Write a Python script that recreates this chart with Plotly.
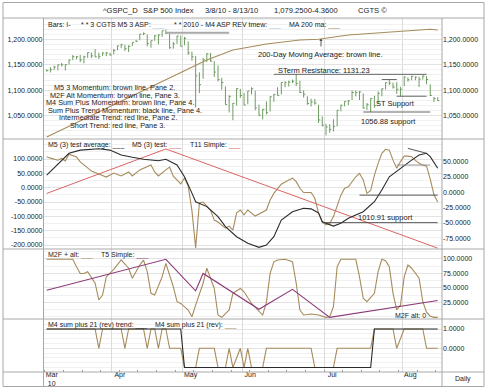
import plotly.graph_objects as go
import pandas as pd

FONT = "Liberation Sans, Arial, sans-serif"
W, H = 490, 390

# ---------------- data ----------------
holidays = ["2010-04-02", "2010-05-31", "2010-07-05"]
all_days = [d for d in pd.bdate_range("2010-03-08", "2010-08-13")
            if d.strftime("%Y-%m-%d") not in holidays]
# sessions that do not appear as bars on the chart
absent_days = ["2010-04-13", "2010-04-21", "2010-05-11", "2010-05-17", "2010-05-24", "2010-05-26"]

high_all = [1141.05, 1145.37, 1148.26, 1150.24, 1153.41, 1151.01, 1160.28, 1169.20, 1167.26, 1169.61, 1167.82, 1174.72, 1174.17, 1180.69, 1173.93, 1174.85, 1175.45, 1173.86,
            1181.43, 1187.73, 1191.80, 1189.60, 1188.55, 1194.66, 1199.20, 1199.98, 1210.65, 1213.92, 1210.17, 1197.87, 1208.50, 1210.99, 1210.27, 1217.28, 1219.80, 1212.05, 1195.05, 1207.33, 1207.99,
            1205.13, 1196.14, 1175.95, 1167.58, 1135.13, 1163.85, 1170.48, 1172.87, 1173.57, 1157.19, 1141.88, 1148.66, 1124.27, 1107.34, 1089.95, 1089.86, 1074.75, 1090.75, 1103.52, 1102.60,
            1094.77, 1098.38, 1105.67, 1098.56, 1071.36, 1063.15, 1077.74, 1087.96, 1092.25, 1105.87, 1115.59, 1117.72, 1118.74, 1121.01, 1131.23, 1118.50, 1099.64, 1088.16, 1083.11, 1082.60, 1071.20, 1048.08,
            1033.58, 1032.95, 1042.50, 1060.89, 1071.25, 1078.16, 1080.78, 1099.08, 1099.46, 1098.42, 1093.74, 1074.70, 1083.94, 1088.96, 1097.50, 1103.11, 1115.01, 1120.95, 1114.66, 1115.90, 1106.44,
            1127.30, 1125.44, 1128.46, 1127.24, 1126.56, 1129.24, 1127.79, 1111.17, 1086.72, 1086.31]
low_all = [1136.77, 1134.90, 1140.09, 1138.99, 1146.97, 1138.82, 1150.35, 1159.31, 1161.16, 1155.33, 1152.88, 1163.83, 1163.38, 1165.09, 1161.48, 1167.67, 1166.98, 1168.12,
           1170.69, 1178.71, 1182.77, 1177.25, 1175.12, 1187.15, 1194.71, 1188.60, 1198.69, 1208.50, 1186.77, 1183.68, 1197.52, 1198.85, 1190.19, 1205.10, 1211.07, 1181.62, 1181.81, 1191.36, 1186.32,
           1188.58, 1169.55, 1158.15, 1065.79, 1094.15, 1122.27, 1147.71, 1155.43, 1156.14, 1126.14, 1114.96, 1117.20, 1100.66, 1071.58, 1055.90, 1072.70, 1040.78, 1065.59, 1069.50, 1084.78,
           1069.89, 1072.03, 1091.81, 1060.50, 1049.86, 1042.17, 1052.25, 1058.02, 1077.12, 1089.30, 1091.66, 1105.87, 1107.13, 1113.93, 1108.24, 1094.18, 1085.31, 1071.00, 1067.89, 1071.45, 1035.18, 1028.33,
           1010.91, 1015.93, 1018.35, 1028.43, 1058.24, 1068.10, 1070.45, 1080.53, 1087.68, 1080.53, 1063.32, 1061.11, 1056.88, 1065.25, 1072.41, 1087.88, 1101.30, 1109.78, 1103.11, 1092.82, 1088.01,
           1107.66, 1116.76, 1119.46, 1119.73, 1105.99, 1120.91, 1111.72, 1088.28, 1076.69, 1079.00]
close_all = [1138.50, 1140.45, 1145.61, 1150.24, 1149.99, 1150.51, 1159.46, 1166.21, 1165.83, 1159.90, 1165.81, 1174.17, 1167.72, 1165.73, 1166.59, 1173.22, 1173.27, 1169.43,
             1178.10, 1187.44, 1189.44, 1182.45, 1186.44, 1194.37, 1196.48, 1197.30, 1210.65, 1211.67, 1192.13, 1197.52, 1207.17, 1205.94, 1208.67, 1217.28, 1212.05, 1183.71, 1191.36, 1206.78, 1186.69,
             1202.26, 1173.60, 1165.87, 1128.15, 1110.88, 1159.73, 1155.79, 1171.67, 1157.44, 1135.68, 1136.94, 1120.80, 1115.05, 1071.59, 1087.69, 1073.65, 1074.03, 1067.95, 1103.06, 1089.41,
             1070.71, 1098.38, 1102.83, 1064.88, 1050.47, 1062.00, 1055.69, 1086.84, 1091.60, 1089.63, 1115.23, 1114.61, 1116.04, 1117.51, 1113.20, 1095.31, 1092.04, 1073.69, 1076.76, 1074.57, 1041.24, 1030.71,
             1027.37, 1022.58, 1028.06, 1060.27, 1070.25, 1077.96, 1078.75, 1095.34, 1095.17, 1096.48, 1064.88, 1071.25, 1083.48, 1069.59, 1093.67, 1102.66, 1115.01, 1113.84, 1106.13, 1101.53, 1101.60,
             1125.86, 1120.46, 1127.24, 1125.81, 1121.64, 1127.79, 1121.06, 1089.47, 1083.61, 1079.25]

keep = [d.strftime("%Y-%m-%d") not in absent_days for d in all_days]
dates = [d for d, k in zip(all_days, keep) if k]
high = [v for v, k in zip(high_all, keep) if k]
low = [v for v, k in zip(low_all, keep) if k]
close = [v for v, k in zip(close_all, keep) if k]
n = len(dates)

# indicator series as (bar number on chart, value)
ma200 = [(0, 1007.6), (43, 1159.5), (50, 1179.3), (59, 1191.1), (68, 1199.0), (73, 1200.4),
         (81, 1208.9), (90, 1213.4), (98, 1218.7), (103, 1220.1), (105, 1218.7)]
# price-pane drawn levels: (value, from bar, to bar)
p1_levels = [(1213.4, 32, 49), (1131.23, 61, 102), (1120.95, 90, 94), (1088.01, 94, 102), (1056.88, 85, 103)]

m5avg = [(0, 44), (6, 120), (9, 131), (12, 135), (14, 136), (17, 131), (20, 114), (23, 106), (26, 99), (30, 94),
         (32, 99), (35, 79), (37, 38), (39, -19), (40, -49), (43, -66), (46, -101), (48, -136), (51, -171), (54, -194),
         (57, -208), (59, -200), (61, -171), (63, -113), (66, -84), (69, -72), (71, -74), (73, -88), (74, -119), (77, -134),
         (79, -124), (81, -107), (85, -84), (88, -49), (90, -8), (92, 38), (95, 68), (98, 96), (100, 114), (102, 120),
         (103, 108), (104, 90), (105, 68)]
m5 = [(0, 108), (1, 103), (3, 96), (4, 102), (5, 93), (6, 117), (8, 107), (9, 90), (11, 69), (12, 58), (14, 48),
      (16, 37), (18, 51), (20, 41), (22, 55), (23, 41), (25, 62), (27, 72), (28, 79), (29, 55), (30, 41), (32, 62),
      (33, 72), (34, 40), (35, 27), (36, 13), (37, 34), (38, 6), (39, -80), (40, -210), (41, -53), (42, -50), (44, -78),
      (45, -113), (46, -120), (48, -141), (49, -134), (50, -148), (51, -88), (52, -78), (53, -95), (54, -78), (56, -99),
      (59, -78), (60, -43), (61, -20), (63, 12), (64, 21), (65, 27), (66, 33), (67, 21), (68, -2), (69, -17), (71, -17),
      (72, -37), (73, -89), (74, -119), (75, -130), (76, -125), (77, -101), (78, -66), (79, -26), (80, -2), (81, 3),
      (83, 38), (84, 50), (85, 27), (86, -20), (87, -10), (88, 44), (89, 85), (90, 120), (91, 134), (92, 131), (93, 96),
      (94, 68), (95, 91), (96, 110), (97, 110), (98, 108), (99, 95), (100, 85), (101, 79), (102, 75), (103, 30),
      (104, -25), (105, -50)]
t11 = [(0, -20), (32, 135), (105, -211)]
p2_levels = [(79, 94, 103), (-26, 84, 105), (-122, 74, 105)]
p2_trend = [(97, 137), (102, 120)]

m2f = [(0, 99.5), (7, 99.5), (8, 86.7), (9, 75), (10, 75), (11, 78), (13, 58), (14, 29), (15, 37.6), (16, 69),
       (18, 82), (20, 98.3), (22, 84), (23, 66.6), (25, 89.6), (26, 98), (27, 78), (28, 40.6), (29, 37.6), (31, 69),
       (32, 92.5), (34, 52), (35, 26), (36, 23), (38, 11.7), (39, 0), (40, 20), (42, 58), (43, 84), (45, 49), (46, 3),
       (47, -1), (49, 11.7), (50, 40.6), (52, 49), (53, 43.3), (55, 23), (57, 8.7), (58, 3), (59, 25), (60, 75),
       (61, 95), (62, 98.3), (64, 99.5), (66, 95.4), (67, 58), (68, 11.7), (69, 3), (71, 4.7), (73, 3), (75, -1),
       (76, 0), (77, 17.4), (78, 86.7), (79, 99.5), (83, 99.5), (84, 69), (85, 32), (86, 26), (88, 40.6), (89, 78),
       (90, 99.5), (91, 97), (92, 86.7), (93, 40.6), (94, 11.7), (95, 20), (96, 69), (97, 89.6), (98, 84), (100, 66.6),
       (101, 26), (102, 8), (103, 1), (104, -1), (105, -1)]
t5 = [(0, 46), (32, 99.5), (40, 45), (42, 75), (57, 13), (66, 47.5), (76, -1), (105, 28)]

m4trend = [(0, 1), (36, 1), (37, -1), (87, -1), (88, 1), (105, 1)]
m4 = [(0, 1), (13, 1), (14, 0), (15, 1), (20, 1), (21, 0), (22, 1), (26, 1), (27, 0), (28, 1), (29, 1), (30, 0),
      (31, 1), (32, 1), (33, 0), (36, 0), (37, -1), (40, -1), (41, 0), (45, 0), (46, -1), (48, -1), (49, 0), (50, -1),
      (52, 0), (53, -1), (54, 0), (55, -1), (58, -1), (59, 0), (71, 0), (72, -1), (77, -1), (78, 0), (87, 0), (88, 1),
      (93, 1), (94, 0), (96, 1), (101, 1), (102, 0), (105, 0)]

p1_ticks = [1050, 1100, 1150, 1200]
p2_left_ticks = [100, 50, 0, -50, -100, -150, -200]
p2_right_ticks = [50, 25, 0, -25, -50, -75]
p3_ticks = [25, 50, 75, 100]
p4_ticks = [0, 1]

# ---------------- styling ----------------
BROWN = "#a68b5b"
BLACK = "#2b2b2b"
RED = "#dc6464"
PURPLE = "#8d3a78"
BAR = "#6f9b62"
GRID = "#e3e3e3"
MINOR = "#f1f1f1"
FRAME = "#a8a8a8"
LBLUE = "#a9cbe0"


def pxx(x):
    return x / W


def pyy(y):
    return 1 - y / H


X0, X1 = 43.5, 442.0
first_px, last_px = 46.7, 437.7
step = (last_px - first_px) / (n - 1)
xr = [-(first_px - X0) / step, (n - 1) + (X1 - last_px) / step]
panes = [(18, 139), (139, 249), (249, 319), (319, 372)]
dom = [[pyy(b), pyy(t)] for t, b in panes]

# month ticks (first bar of each month)
mt_vals, mt_text = [], []
for i, d in enumerate(dates):
    if i == 0 or d.month != dates[i - 1].month:
        mt_vals.append(i - 0.5 if i > 0 else xr[0] + 0.05)
        mt_text.append(d.strftime("%b") + ("<br>10" if i == 0 else ""))

fig = go.Figure()


def line(xs, ys, color, width=1, xa="x", ya="y"):
    fig.add_trace(go.Scatter(x=list(xs), y=list(ys), mode="lines", xaxis=xa, yaxis=ya,
                             line=dict(color=color, width=width),
                             hoverinfo="skip", showlegend=False))


def series(pairs, color, width, xa, ya):
    xs, ys = zip(*pairs)
    line(xs, ys, color, width, xa, ya)


# price bars (high-low with close tick)
bx, by = [], []
for i in range(n):
    bx += [i, i, None, i, i + 0.45, None]
    by += [low[i], high[i], None, close[i], close[i], None]
line(bx, by, BAR, 1)
series(ma200, BROWN, 1.1, "x", "y")
for k, (v, a, b) in enumerate(p1_levels):
    line([a, b], [v, v], "#aaaaaa" if k == 0 else "#555555", 2 if k == 0 else 0.9)
line([None], [None], BAR, 1, "x", "y5")

# pane 2
series(t11, RED, 1, "x2", "y2")
series(m5, BROWN, 1.1, "x2", "y2")
series(m5avg, BLACK, 1.1, "x2", "y2")
for k, (v, a, b) in enumerate(p2_levels):
    line([a, b], [v, v], "#888888" if k == 0 else "#444444", 0.9, "x2", "y2")
series(p2_trend, "#444444", 0.9, "x2", "y2")
line([None], [None], BLACK, 1, "x2", "y6")

# pane 3
series(m2f, BROWN, 1.1, "x3", "y3")
series(t5, PURPLE, 1.1, "x3", "y3")

# pane 4
series(m4, BROWN, 1.1, "x4", "y4")
series(m4trend, BLACK, 1.1, "x4", "y4")

tickfont = dict(family=FONT, size=7, color="#222")
xcommon = dict(range=xr, domain=[pxx(X0), pxx(X1)], tickvals=mt_vals, showgrid=True,
               gridcolor="#dcdcdc", gridwidth=1, zeroline=False, showline=False, ticks="")
layout = dict(
    width=W, height=H, margin=dict(l=0, r=0, t=0, b=0),
    paper_bgcolor="white", plot_bgcolor="white", showlegend=False,
    font=dict(family=FONT, size=7.5, color="#222"),
    xaxis=dict(xcommon, anchor="y", showticklabels=False),
    xaxis2=dict(xcommon, anchor="y2", showticklabels=False, matches="x"),
    xaxis3=dict(xcommon, anchor="y3", showticklabels=False, matches="x"),
    xaxis4=dict(xcommon, anchor="y4", matches="x", showticklabels=True, ticktext=mt_text,
                tickfont=tickfont, ticklabelshift=8, ticklabelstandoff=-3,
                minor=dict(ticks="inside", ticklen=2, tickcolor="#999", dtick=5, tick0=-0.5, showgrid=False)),
    yaxis=dict(domain=dom[0], anchor="x", range=[1003.6, 1242.4], tickvals=p1_ticks,
               ticktext=[f"{v:,.4f}" for v in p1_ticks], tickfont=tickfont, gridcolor=GRID,
               zeroline=False, ticks="", minor=dict(dtick=10, gridcolor=MINOR, showgrid=True)),
    yaxis5=dict(overlaying="y", anchor="x", side="right", range=[1003.6, 1242.4], tickvals=p1_ticks,
                ticktext=[f"{v:,.4f}" for v in p1_ticks], tickfont=tickfont, showgrid=False,
                zeroline=False, ticks=""),
    yaxis2=dict(domain=dom[1], anchor="x2", range=[-213.9, 169.8], tickvals=p2_left_ticks,
                ticktext=[f"{v:.4f}" for v in p2_left_ticks], tickfont=tickfont, gridcolor=GRID,
                zeroline=False, ticks="", minor=dict(dtick=25, gridcolor=MINOR, showgrid=True)),
    yaxis6=dict(overlaying="y2", anchor="x2", side="right", range=[-92.5, 87], tickvals=p2_right_ticks,
                ticktext=[f"{v:.4f}" for v in p2_right_ticks], tickfont=tickfont, showgrid=False,
                zeroline=False, ticks=""),
    yaxis3=dict(domain=dom[2], anchor="x3", side="right", range=[-3.9, 117.3], tickvals=p3_ticks,
                ticktext=[f"{v:.4f}" for v in p3_ticks], tickfont=tickfont, gridcolor=GRID,
                zeroline=False, ticks="", minor=dict(dtick=12.5, gridcolor=MINOR, showgrid=True)),
    yaxis4=dict(domain=dom[3], anchor="x4", side="right", range=[-1.23, 1.52], tickvals=p4_ticks,
                ticktext=[f"{v:.4f}" for v in p4_ticks], tickfont=tickfont, gridcolor=GRID,
                zeroline=False, ticks="", minor=dict(dtick=0.25, gridcolor=MINOR, showgrid=True)),
)
fig.update_layout(**layout)

# frame lines
shapes = []


def hline(y, x0=3, x1=484, color=FRAME):
    shapes.append(dict(type="line", xref="paper", yref="paper", x0=pxx(x0), x1=pxx(x1),
                       y0=pyy(y), y1=pyy(y), line=dict(color=color, width=1)))


def vline(x, y0, y1, color=FRAME):
    shapes.append(dict(type="line", xref="paper", yref="paper", x0=pxx(x), x1=pxx(x),
                       y0=pyy(y0), y1=pyy(y1), line=dict(color=color, width=1)))


hline(2.5); hline(18); hline(139); hline(249); hline(319); hline(372); hline(386.5)
vline(3, 2.5, 386.5); vline(484, 2.5, 386.5)
vline(X0, 18, 386.5); vline(X1, 18, 386.5)
fig.update_layout(shapes=shapes)

ann = []


def text(s, x, y, anchor="left", size=7.5):
    ann.append(dict(text=s, x=pxx(x), y=pyy(y), xref="paper", yref="paper", showarrow=False,
                    xanchor=anchor, yanchor="middle", font=dict(family=FONT, size=size, color="#222")))


def u(c):
    return f"<span style='color:{c}'>___</span>"


for s, cx in [("^GSPC_D", 120), ("S&P 500 Index", 168), ("3/8/10 - 8/13/10", 231.7),
              ("1,079.2500", 293.3), ("-4.3600", 325.3), ("CGTS ©", 372.5)]:
    text(s, cx, 10.5, "center", 7.6)

text("Bars: I-", 46, 24.5, size=7)
text("* * 3 CGTS M5 3 ASP: " + u(LBLUE), 79, 24.5, size=7)
text("* * 2010 - M4 ASP REV tmew: " + u(LBLUE), 172.3, 24.5, size=7)
text("MA 200 ma: " + u(BROWN), 287.3, 24.5, size=7)

for s, cx, y in [("M5 3 Momentum: brown line, Pane 2.", 114, 87.7),
                 ("M2F Alt Momentum: brown line, Pane 3.", 114.5, 95.2),
                 ("M4 Sum Plus Momentum: brown line, Pane 4.", 119.7, 102.7),
                 ("Sum Plus Trend Momentum: black line, Pane 4.", 124.5, 110.3),
                 ("Intermediate Trend: red line, Pane 2.", 118, 117.9),
                 ("Short Trend: red line, Pane 3.", 117.5, 125.4)]:
    text(s, cx, y, "center", 7.3)

text("200-Day Moving Average: brown line.", 320.7, 54.5, "center")
text("STerm Resistance: 1131.23", 324, 70, "center")
text("ST Support", 395, 103.3, "center")
text("1056.88 support", 388, 121.7, "center")
text("1010.91 support", 385, 217.3, "center")

text("M5 (3) test average: " + u(BLACK), 46, 145, size=7)
text("M5 (3) test: " + u(RED), 130, 145, size=7)
text("T11 Simple: " + u(RED), 188.3, 145, size=7)
text("M2F + alt: " + u(BROWN), 46, 255, size=7)
text("T5 Simple: " + u(PURPLE), 99.3, 255, size=7)
text("M2F alt: 0", 428, 315.5, "right", 7)
text("M4 sum plus 21 (rev) trend: " + u(BLACK), 46, 325, size=7)
text("M4 sum plus 21 (rev): " + u(BROWN), 152.7, 325, size=7)
text("Daily", 463, 379, "center", 7)

ann.append(dict(x=pxx(321), y=pyy(39), xref="paper", yref="paper", ax=0, ay=9, text="",
                showarrow=True, arrowhead=1, arrowsize=0.7, arrowwidth=0.8, arrowcolor="#333"))
fig.update_layout(annotations=ann)

fig.write_html("out.html", config={"displayModeBar": False},
               post_script="document.body.style.margin='0px';")
